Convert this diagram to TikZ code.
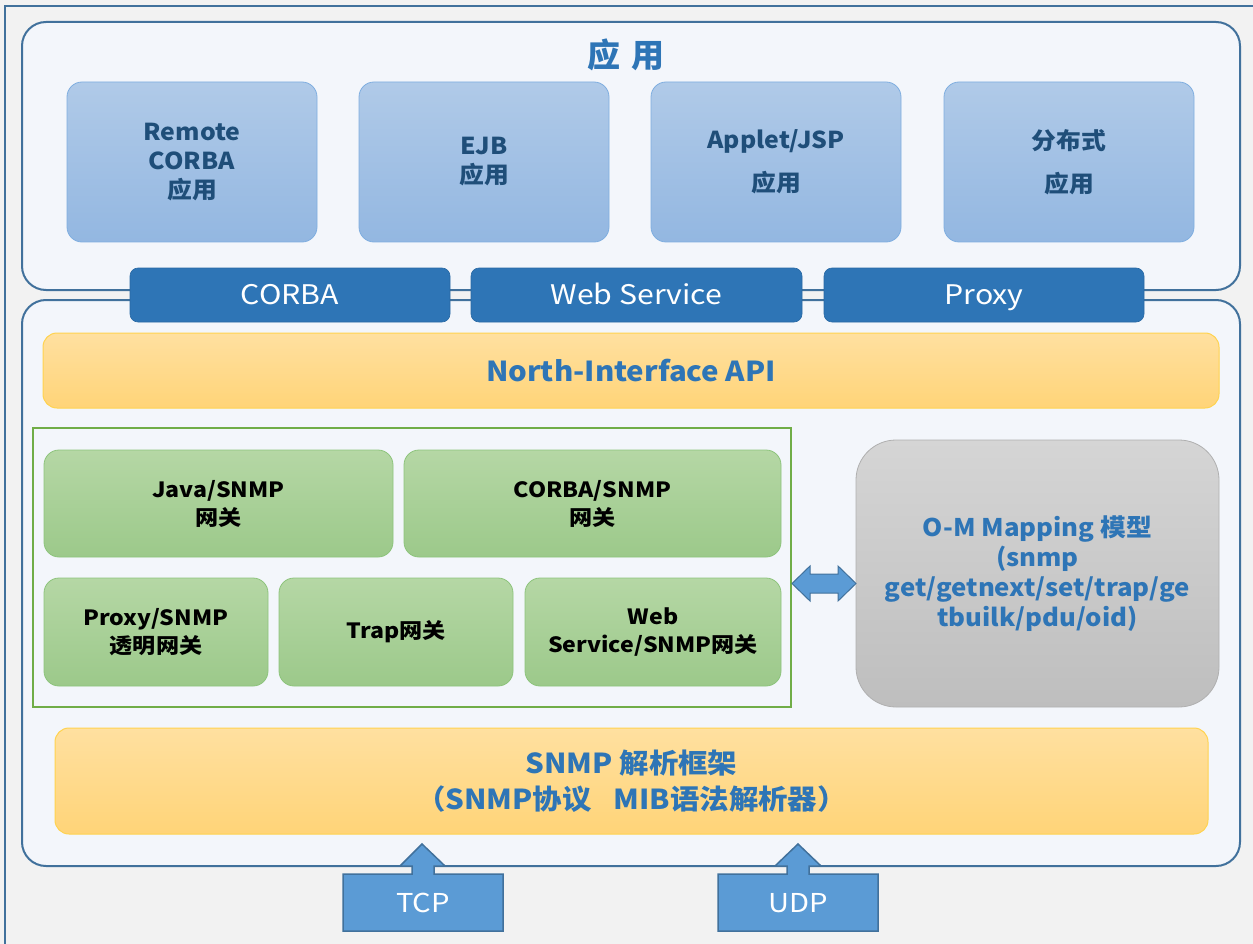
\documentclass[tikz,border=0pt]{standalone}
\usepackage{fontspec}
\setmainfont{Noto Sans CJK SC}
\newfontfamily\fapp[FakeStretch=1.065]{Noto Sans CJK SC}
\newfontfamily\fbar[FakeStretch=1.12]{Noto Sans CJK SC}
\newfontfamily\fyel[FakeStretch=1.07]{Noto Sans CJK SC}
\newfontfamily\fgr[FakeStretch=1.1]{Noto Sans CJK SC}
\newfontfamily\fom[FakeStretch=1.06]{Noto Sans CJK SC}
\definecolor{bg}{HTML}{F2F2F2}
\definecolor{panelfill}{HTML}{F3F6FB}
\definecolor{panelborder}{HTML}{41719C}
\definecolor{apptop}{HTML}{B0CAE8}
\definecolor{appbot}{HTML}{93B7E1}
\definecolor{appborder}{HTML}{7FAEE0}
\definecolor{apptext}{HTML}{1F4E79}
\definecolor{barblue}{HTML}{2E75B6}
\definecolor{bluetext}{HTML}{2E75B6}
\definecolor{yeltop}{HTML}{FFE0A0}
\definecolor{yelbot}{HTML}{FFD478}
\definecolor{yelborder}{HTML}{FFD34F}
\definecolor{grtop}{HTML}{B5D7A5}
\definecolor{grbot}{HTML}{9CC98A}
\definecolor{grborder}{HTML}{8DC47C}
\definecolor{gcborder}{HTML}{70AD47}
\definecolor{gytop}{HTML}{D5D5D5}
\definecolor{gybot}{HTML}{BEBEBE}
\definecolor{gyborder}{HTML}{B0B0B0}
\definecolor{arrfill}{HTML}{5B9BD5}
\begin{document}
\begin{tikzpicture}[x=1pt,y=1pt,
  panel/.style={draw=panelborder,line width=2pt,fill=panelfill,rounded corners=24pt,inner sep=0pt},
  appbox/.style={draw=appborder,line width=0.8pt,top color=apptop,bottom color=appbot,rounded corners=15pt,
    inner sep=0pt,minimum width=250,minimum height=160,align=center,text=apptext,
    font=\fapp\fontsize{23.3}{29}\selectfont\bfseries},
  barbox/.style={draw=barblue!90!black,line width=0.6pt,fill=barblue,rounded corners=8pt,inner sep=0pt,
    minimum height=54,text=white,text height=19.8pt,text depth=0pt,font=\fbar\fontsize{27}{30}\selectfont},
  yelbox/.style={draw=yelborder,line width=1pt,top color=yeltop,bottom color=yelbot,rounded corners=14pt,
    inner sep=0pt,align=center,text=bluetext,font=\fyel\fontsize{27.5}{36}\selectfont\bfseries},
  grbox/.style={draw=grborder,line width=0.8pt,top color=grtop,bottom color=grbot,rounded corners=15pt,
    inner sep=0pt,align=center,text=black,font=\fgr\fontsize{21}{28}\selectfont\bfseries},
  gcont/.style={draw=gcborder,line width=1.5pt,inner sep=0pt},
  graybox/.style={draw=gyborder,line width=0.8pt,top color=gytop,bottom color=gybot,rounded corners=40pt,
    inner sep=0pt,align=center,text=bluetext,font=\fom\fontsize{24.3}{30}\selectfont\bfseries},
  blockarrow/.style={draw=panelborder,line width=1.5pt,fill=arrfill,line join=miter},
  arrtext/.style={text=white,text height=19pt,text depth=0pt,font=\fbar\fontsize{26}{30}\selectfont,inner sep=0pt},
  titletext/.style={text=bluetext,font=\fontsize{33}{36}\selectfont\bfseries,inner sep=0pt}
]
\useasboundingbox (0,0) rectangle (1253,-944);
\fill[bg] (0,0) rectangle (1253,-944);
\draw[panelborder,line width=2pt] (5,-944) -- (5,-6) -- (1253,-6);

% panels
\node[panel,minimum width=1218,minimum height=268] (toppanel) at (631,-156) {};
\node[panel,minimum width=1218,minimum height=566] (botpanel) at (631,-583) {};

\node[titletext] (title) at (626,-55) {应\hspace{0.35em}用};

% application boxes
\node[appbox] (app1) at (192,-162) {Remote\\CORBA\\应用};
\node[appbox] (app2) at (484,-162) {EJB\\应用};
\node[appbox] (app3) at (776,-162) {Applet/JSP\\[14pt]应用};
\node[appbox] (app4) at (1069,-162) {分布式\\[14pt]应用};

% interface bars
\node[barbox,minimum width=320] (corba) at (290,-295) {CORBA};
\node[barbox,minimum width=331] (ws) at (636.5,-295) {Web Service};
\node[barbox,minimum width=320] (proxy) at (984,-295) {Proxy};

% north interface
\node[yelbox,minimum width=1176,minimum height=75] (api) at (631,-370.5) {North-Interface API};

% gateways
\node[gcont,minimum width=758,minimum height=279] (gc) at (412,-567.5) {};
\node[grbox,minimum width=349,minimum height=107] (java) at (218.5,-503.5) {Java/SNMP\\网关};
\node[grbox,minimum width=377,minimum height=107] (corbasnmp) at (592.5,-503.5) {CORBA/SNMP\\网关};
\node[grbox,minimum width=224,minimum height=108] (proxysnmp) at (156,-632) {Proxy/SNMP\\透明网关};
\node[grbox,minimum width=234,minimum height=108] (trap) at (396,-632) {Trap网关};
\node[grbox,minimum width=256,minimum height=108] (wssnmp) at (653,-632) {Web\\Service/SNMP网关};

% O-M mapping
\node[graybox,minimum width=363,minimum height=267] (om) at (1037.5,-573.5)
  {O-M Mapping 模型\\(snmp\\get/getnext/set/trap/ge\\tbuilk/pdu/oid)};

% double arrow between gateways and O-M model
\draw[blockarrow,line width=1pt] (792,-583.5) -- (810,-566) -- (810,-574) -- (838,-574) -- (838,-566)
  -- (856,-583.5) -- (838,-601) -- (838,-593) -- (810,-593) -- (810,-601) -- cycle;

% SNMP framework
\node[yelbox,minimum width=1153,minimum height=106] (snmp) at (631.5,-781)
  {SNMP 解析框架\\（SNMP协议\hspace{0.8em}MIB语法解析器）};

% TCP / UDP arrows
\draw[blockarrow] (343,-931) -- (343,-874) -- (412,-874) -- (412,-866) -- (400,-866) -- (422,-844)
  -- (445,-866) -- (434,-866) -- (434,-874) -- (503,-874) -- (503,-931) -- cycle;
\node[arrtext] (tcp) at (423,-903) {TCP};
\draw[blockarrow] (718,-931) -- (718,-874) -- (787,-874) -- (787,-866) -- (775,-866) -- (798,-844)
  -- (821,-866) -- (809,-866) -- (809,-874) -- (878,-874) -- (878,-931) -- cycle;
\node[arrtext] (udp) at (798,-903) {UDP};
\end{tikzpicture}
\end{document}
